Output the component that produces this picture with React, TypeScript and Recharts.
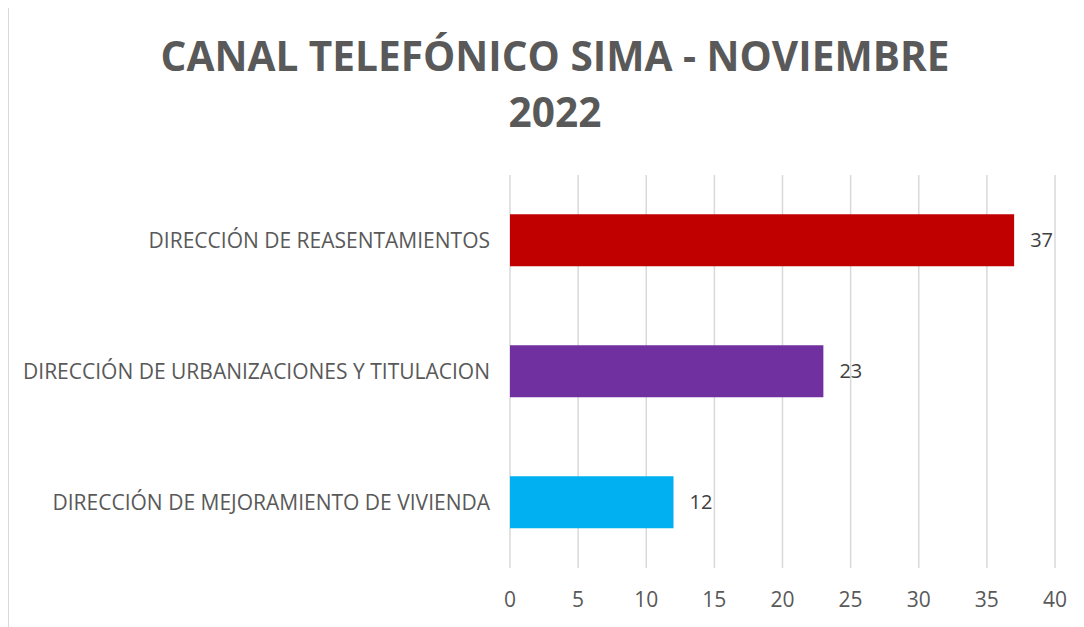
import { BarChart, Bar, XAxis, YAxis, CartesianGrid, Cell, LabelList } from 'recharts';

const categories = [
  'DIRECCIÓN DE REASENTAMIENTOS',
  'DIRECCIÓN DE URBANIZACIONES Y TITULACION',
  'DIRECCIÓN DE MEJORAMIENTO DE VIVIENDA',
];
const llamadas = [37, 23, 12];
const barColors = ['#C00000', '#7030A0', '#00B0F0'];
const xTicks = [0, 5, 10, 15, 20, 25, 30, 35, 40];

const data = categories.map((name, i) => ({ name, value: llamadas[i] }));

export default function App() {
  return (
    <div
      style={{
        position: 'relative',
        marginTop: -3,
        width: 1076,
        height: 625,
        borderLeft: '1px solid #d9d9d9',
        borderTop: '1px solid #d9d9d9',
        fontFamily: 'Open Sans',
        boxSizing: 'border-box',
      }}
    >
      <div
        style={{
          position: 'absolute',
          top: 22,
          left: 0,
          width: 1092,
          textAlign: 'center',
          color: '#595959',
          fontWeight: 700,
          fontSize: 40.6,
          lineHeight: '56px',
        }}
      >
        CANAL TELEFÓNICO SIMA - NOVIEMBRE
        <br />
        2022
      </div>
      <BarChart
        width={1075}
        height={621}
        data={data}
        layout="vertical"
        barCategoryGap="30%"
        margin={{ top: 169, right: 29, bottom: 19, left: 0 }}
      >
        <CartesianGrid horizontal={false} stroke="#d9d9d9" strokeWidth={1.5} />
        <XAxis
          type="number"
          domain={[0, 40]}
          ticks={xTicks}
          axisLine={false}
          tickLine={false}
          height={40}
          tickMargin={18}
          tick={{ fill: '#595959', fontSize: 21 }}
        />
        <YAxis
          type="category"
          dataKey="name"
          width={501}
          axisLine={false}
          tickLine={false}
          tickMargin={14}
          tick={{ fill: '#595959', fontSize: 21 }}
        />
        <Bar dataKey="value" isAnimationActive={false}>
          {data.map((d, i) => (
            <Cell key={d.name} fill={barColors[i]} />
          ))}
          <LabelList dataKey="value" position="right" offset={16} fill="#404040" fontSize={20} />
        </Bar>
      </BarChart>
    </div>
  );
}
